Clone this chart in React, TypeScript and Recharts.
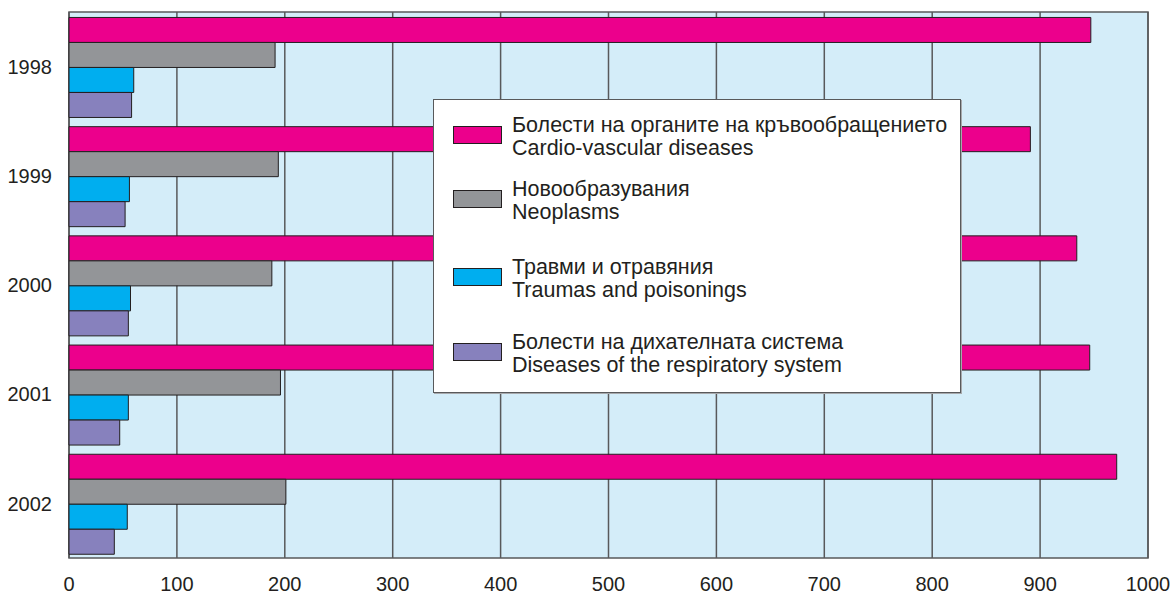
import {
  BarChart,
  Bar,
  XAxis,
  YAxis,
  CartesianGrid,
  Legend,
  ReferenceArea,
} from "recharts";

const years = ["1998", "1999", "2000", "2001", "2002"];
const cardio = [947, 891, 934, 946, 971];
const neoplasms = [191, 194, 188, 196, 201];
const traumas = [60, 56, 57, 55, 54];
const respiratory = [58, 52, 55, 47, 42];
const xTicks = [0, 100, 200, 300, 400, 500, 600, 700, 800, 900, 1000];

const series = [
  {
    key: "cardio",
    bg: "Болести на органите на кръвообращението",
    en: "Cardio-vascular diseases",
    color: "#ec008c",
  },
  {
    key: "neoplasms",
    bg: "Новообразувания",
    en: "Neoplasms",
    color: "#939598",
  },
  {
    key: "traumas",
    bg: "Травми и отравяния",
    en: "Traumas and poisonings",
    color: "#00aeef",
  },
  {
    key: "respiratory",
    bg: "Болести на дихателната система",
    en: "Diseases of the respiratory system",
    color: "#8781bd",
  },
];

const data = years.map((year, i) => ({
  year,
  cardio: cardio[i],
  neoplasms: neoplasms[i],
  traumas: traumas[i],
  respiratory: respiratory[i],
}));

const FONT = "'Liberation Sans', Arial, Helvetica, sans-serif";
const TEXT = "#231f20";
const GRID = "#58595b";

// vertical offsets of the legend entries inside the box
const itemTops = [27, 91, 169, 244];

function LegendBox() {
  return (
    <div
      style={{
        position: "relative",
        width: 528,
        height: 294,
        boxSizing: "border-box",
        background: "#fff",
        border: "1px solid #58595b",
        boxShadow: "1px 1px 0 #a7a9ac",
        fontFamily: FONT,
        fontSize: 21.5,
        color: TEXT,
        textAlign: "left",
      }}
    >
      {series.map((s, i) => (
        <div key={s.key}>
          <div
            style={{
              position: "absolute",
              left: 19,
              top: itemTops[i] - 1,
              width: 49,
              height: 18,
              boxSizing: "border-box",
              background: s.color,
              border: "1px solid #231f20",
            }}
          />
          <div
            style={{
              position: "absolute",
              left: 78,
              top: itemTops[i] - 13.5,
              lineHeight: "23.5px",
              whiteSpace: "nowrap",
            }}
          >
            <div>{s.bg}</div>
            <div>{s.en}</div>
          </div>
        </div>
      ))}
    </div>
  );
}

export default function App() {
  return (
    <div style={{ position: "absolute", left: 0, top: 0 }}>
      <BarChart
        width={1176}
        height={597}
        data={data}
        layout="vertical"
        margin={{ top: 12, right: 28, bottom: 8, left: 9 }}
        barCategoryGap="5%"
        barGap={0}
      >
        <CartesianGrid
          horizontal={false}
          fill="#d4edf9"
          fillOpacity={1}
          stroke={GRID}
          strokeWidth={1.5}
        />
        <ReferenceArea
          x1={0}
          x2={1000}
          fill="none"
          stroke={GRID}
          strokeWidth={1.5}
        />
        <XAxis
          type="number"
          domain={[0, 1000]}
          ticks={xTicks}
          height={31}
          axisLine={false}
          tickLine={false}
          tickSize={0}
          tickMargin={19}
          tick={{ fill: TEXT, fontSize: 20, fontFamily: FONT }}
          interval={0}
        />
        <YAxis
          type="category"
          dataKey="year"
          width={60}
          axisLine={false}
          tickLine={false}
          tickSize={0}
          tickMargin={17}
          tick={{ fill: TEXT, fontSize: 20, fontFamily: FONT }}
        />
        <Legend
          layout="vertical"
          align="center"
          verticalAlign="middle"
          wrapperStyle={{ left: 433, top: 99, width: 528, height: 294 }}
          content={() => <LegendBox />}
        />
        {series.map((s) => (
          <Bar
            key={s.key}
            dataKey={s.key}
            name={s.en}
            fill={s.color}
            stroke="#231f20"
            strokeWidth={1}
            isAnimationActive={false}
          />
        ))}
      </BarChart>
    </div>
  );
}
